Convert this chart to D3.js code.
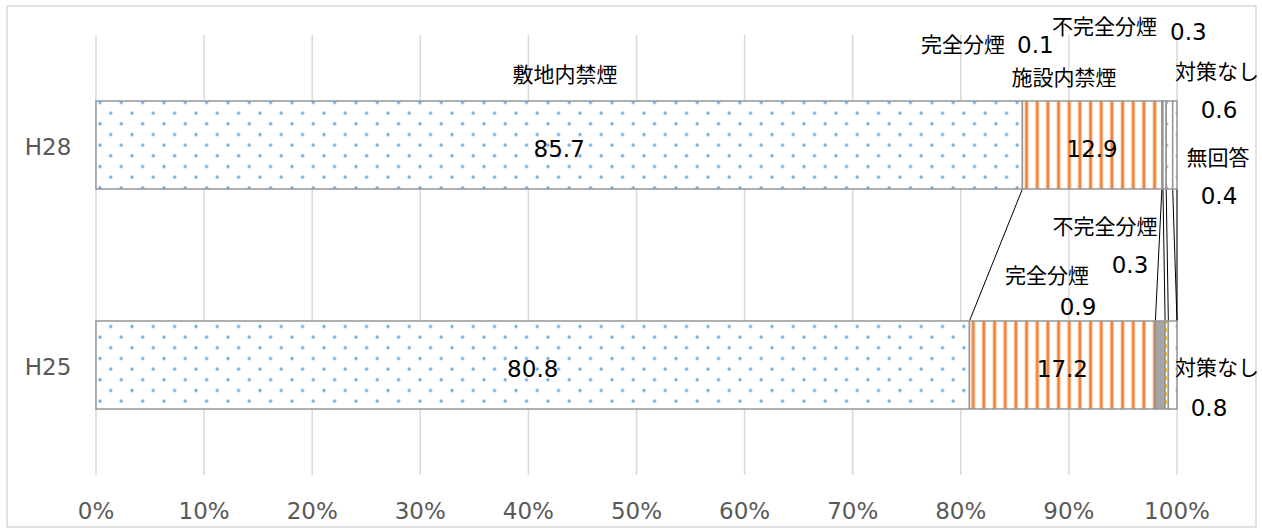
<!DOCTYPE html>
<html>
<head>
<meta charset="utf-8">
<script src="https://cdn.jsdelivr.net/npm/d3@7"></script>
<style>
  body { margin: 0; background: #fff; }
  svg text { font-family: "DejaVu Sans", "Noto Sans CJK JP", sans-serif; }
</style>
</head>
<body>
<script>
// categories top to bottom
var years = ["H28", "H25"];
var series = ["敷地内禁煙", "施設内禁煙", "完全分煙", "不完全分煙", "対策なし", "無回答"];
var valuesH28 = [85.7, 12.9, 0.1, 0.3, 0.6, 0.4];
var valuesH25 = [80.8, 17.2, 0.9, 0.3, 0.8, 0];
var ticks = [0, 10, 20, 30, 40, 50, 60, 70, 80, 90, 100];

var width = 1262, height = 528;
var svg = d3.select("body").append("svg")
  .attr("width", width).attr("height", height);

// patterns
var defs = svg.append("defs");
function dots(id, color) {
  var p = defs.append("pattern").attr("id", id)
    .attr("patternUnits", "userSpaceOnUse")
    .attr("width", 21.33).attr("height", 21.33)
    .attr("x", 89.33).attr("y", 102.5);
  p.append("rect").attr("width", 21.33).attr("height", 21.33).attr("fill", "#fff");
  p.append("circle").attr("cx", 10.67).attr("cy", 0).attr("r", 1.6).attr("fill", color);
  p.append("circle").attr("cx", 10.67).attr("cy", 21.33).attr("r", 1.6).attr("fill", color);
  p.append("circle").attr("cx", 0).attr("cy", 10.67).attr("r", 1.6).attr("fill", color);
  p.append("circle").attr("cx", 21.33).attr("cy", 10.67).attr("r", 1.6).attr("fill", color);
}
dots("dotBlue", "#6aa6e0");
dots("dotBlue2", "#6f98d4");
dots("dotGreen", "#7dbb5c");

var pv = defs.append("pattern").attr("id", "vert")
  .attr("patternUnits", "userSpaceOnUse")
  .attr("width", 10.67).attr("height", 10).attr("x", 1021);
pv.append("rect").attr("width", 10.67).attr("height", 10).attr("fill", "#fff");
pv.append("rect").attr("x", 3.5).attr("width", 4.2).attr("height", 10).attr("fill", "#f4a36b").attr("opacity", 0.6);
pv.append("rect").attr("x", 4.4).attr("width", 2.2).attr("height", 10).attr("fill", "#ed7d31");

var pd = defs.append("pattern").attr("id", "dashY")
  .attr("patternUnits", "userSpaceOnUse")
  .attr("width", 4).attr("height", 8);
pd.append("rect").attr("width", 4).attr("height", 8).attr("fill", "#fff");
pd.append("rect").attr("x", 1.2).attr("y", 0).attr("width", 1.8).attr("height", 4).attr("fill", "#f2c230");

var fills = ["url(#dotBlue)", "url(#vert)", "#a5a5a5", "url(#dashY)", "url(#dotBlue2)", "url(#dotGreen)"];

// frame
svg.append("rect").attr("x", 7).attr("y", 6).attr("width", 1249).attr("height", 521)
  .attr("fill", "#fff").attr("stroke", "#d9d9d9").attr("stroke-width", 1.5);

var x = d3.scaleLinear().domain([0, 100]).range([96, 1177]);
var y = d3.scaleBand().domain(years).range([35, 475]).paddingInner(0.6).paddingOuter(0.3);

// gridlines
svg.append("g").selectAll("line").data(ticks).enter().append("line")
  .attr("x1", d => x(d)).attr("x2", d => x(d))
  .attr("y1", 35).attr("y2", 475)
  .attr("stroke", "#d9d9d9").attr("stroke-width", 1.5);

// tick labels
svg.append("g").selectAll("text").data(ticks).enter().append("text")
  .attr("x", d => x(d)).attr("y", 519)
  .attr("text-anchor", "middle")
  .attr("font-size", 23).attr("fill", "#595959")
  .text(d => d + "%");

// category labels
svg.append("g").selectAll("text").data(years).enter().append("text")
  .attr("x", 48).attr("y", d => y(d) + y.bandwidth() / 2 + 10)
  .attr("text-anchor", "middle")
  .attr("font-size", 23).attr("fill", "#595959")
  .text(d => d);

// stacked data
var data = [valuesH28, valuesH25].map(function (vals, i) {
  var acc = 0;
  return vals.map(function (v, j) {
    var s = { year: years[i], idx: j, v: v, x0: acc, x1: acc + v };
    acc += v;
    return s;
  });
});

// series lines between bars
var bTop = data[0], bBot = data[1];
var lineBounds = [];
for (var j = 0; j < series.length; j++) {
  lineBounds.push([bTop[j].x1, bBot[j].x1]);
}
svg.append("g").selectAll("line").data(lineBounds).enter().append("line")
  .attr("x1", d => x(d[0])).attr("y1", y("H28") + y.bandwidth())
  .attr("x2", d => x(d[1])).attr("y2", y("H25"))
  .attr("stroke", "#000").attr("stroke-width", 1);

// bars
svg.append("g").selectAll("g").data(data).enter().append("g")
  .selectAll("rect").data(d => d.filter(s => s.v > 0)).enter().append("rect")
  .attr("x", d => x(d.x0))
  .attr("y", d => y(d.year))
  .attr("width", d => x(d.x1) - x(d.x0))
  .attr("height", y.bandwidth())
  .attr("fill", d => fills[d.idx])
  .attr("stroke", "#969696").attr("stroke-width", 1.5);

// labels
var T = svg.append("g").attr("fill", "#000");
function lab(tx, ty, s, size, anchor) {
  T.append("text").attr("x", tx).attr("y", ty)
    .attr("font-size", size)
    .attr("text-anchor", anchor || "middle").text(s);
}
var yc28 = y("H28") + y.bandwidth() / 2, yc25 = y("H25") + y.bandwidth() / 2;
var J = 21, N = 23;

// H28
lab(565, 82, series[0], J);
lab(x(bTop[0].x0 + bTop[0].v / 2), yc28 + 12, valuesH28[0], N);
lab(1064, 85, series[1], J);
lab(x(bTop[1].x0 + bTop[1].v / 2), yc28 + 12, valuesH28[1], N);
lab(1005, 52, series[2], J, "end");
lab(1017, 53, valuesH28[2], N, "start");
lab(1052, 34, series[3], J, "start");
lab(1170, 40, valuesH28[3], N, "start");
lab(1217, 79, series[4], J);
lab(1219, 118, valuesH28[4], N);
lab(1218, 165, series[5], J);
lab(1219, 204, valuesH28[5], N);

// H25
lab(x(bBot[0].x0 + bBot[0].v / 2), yc25 + 12, valuesH25[0], N);
lab(x(bBot[1].x0 + bBot[1].v / 2), yc25 + 12, valuesH25[1], N);
lab(1047, 283, series[2], J);
lab(1078, 315, valuesH25[2], N);
lab(1105, 234, series[3], J);
lab(1130, 273, valuesH25[3], N);
lab(1217, 375, series[4], J);
lab(1209, 416, valuesH25[4], N);
</script>
</body>
</html>
